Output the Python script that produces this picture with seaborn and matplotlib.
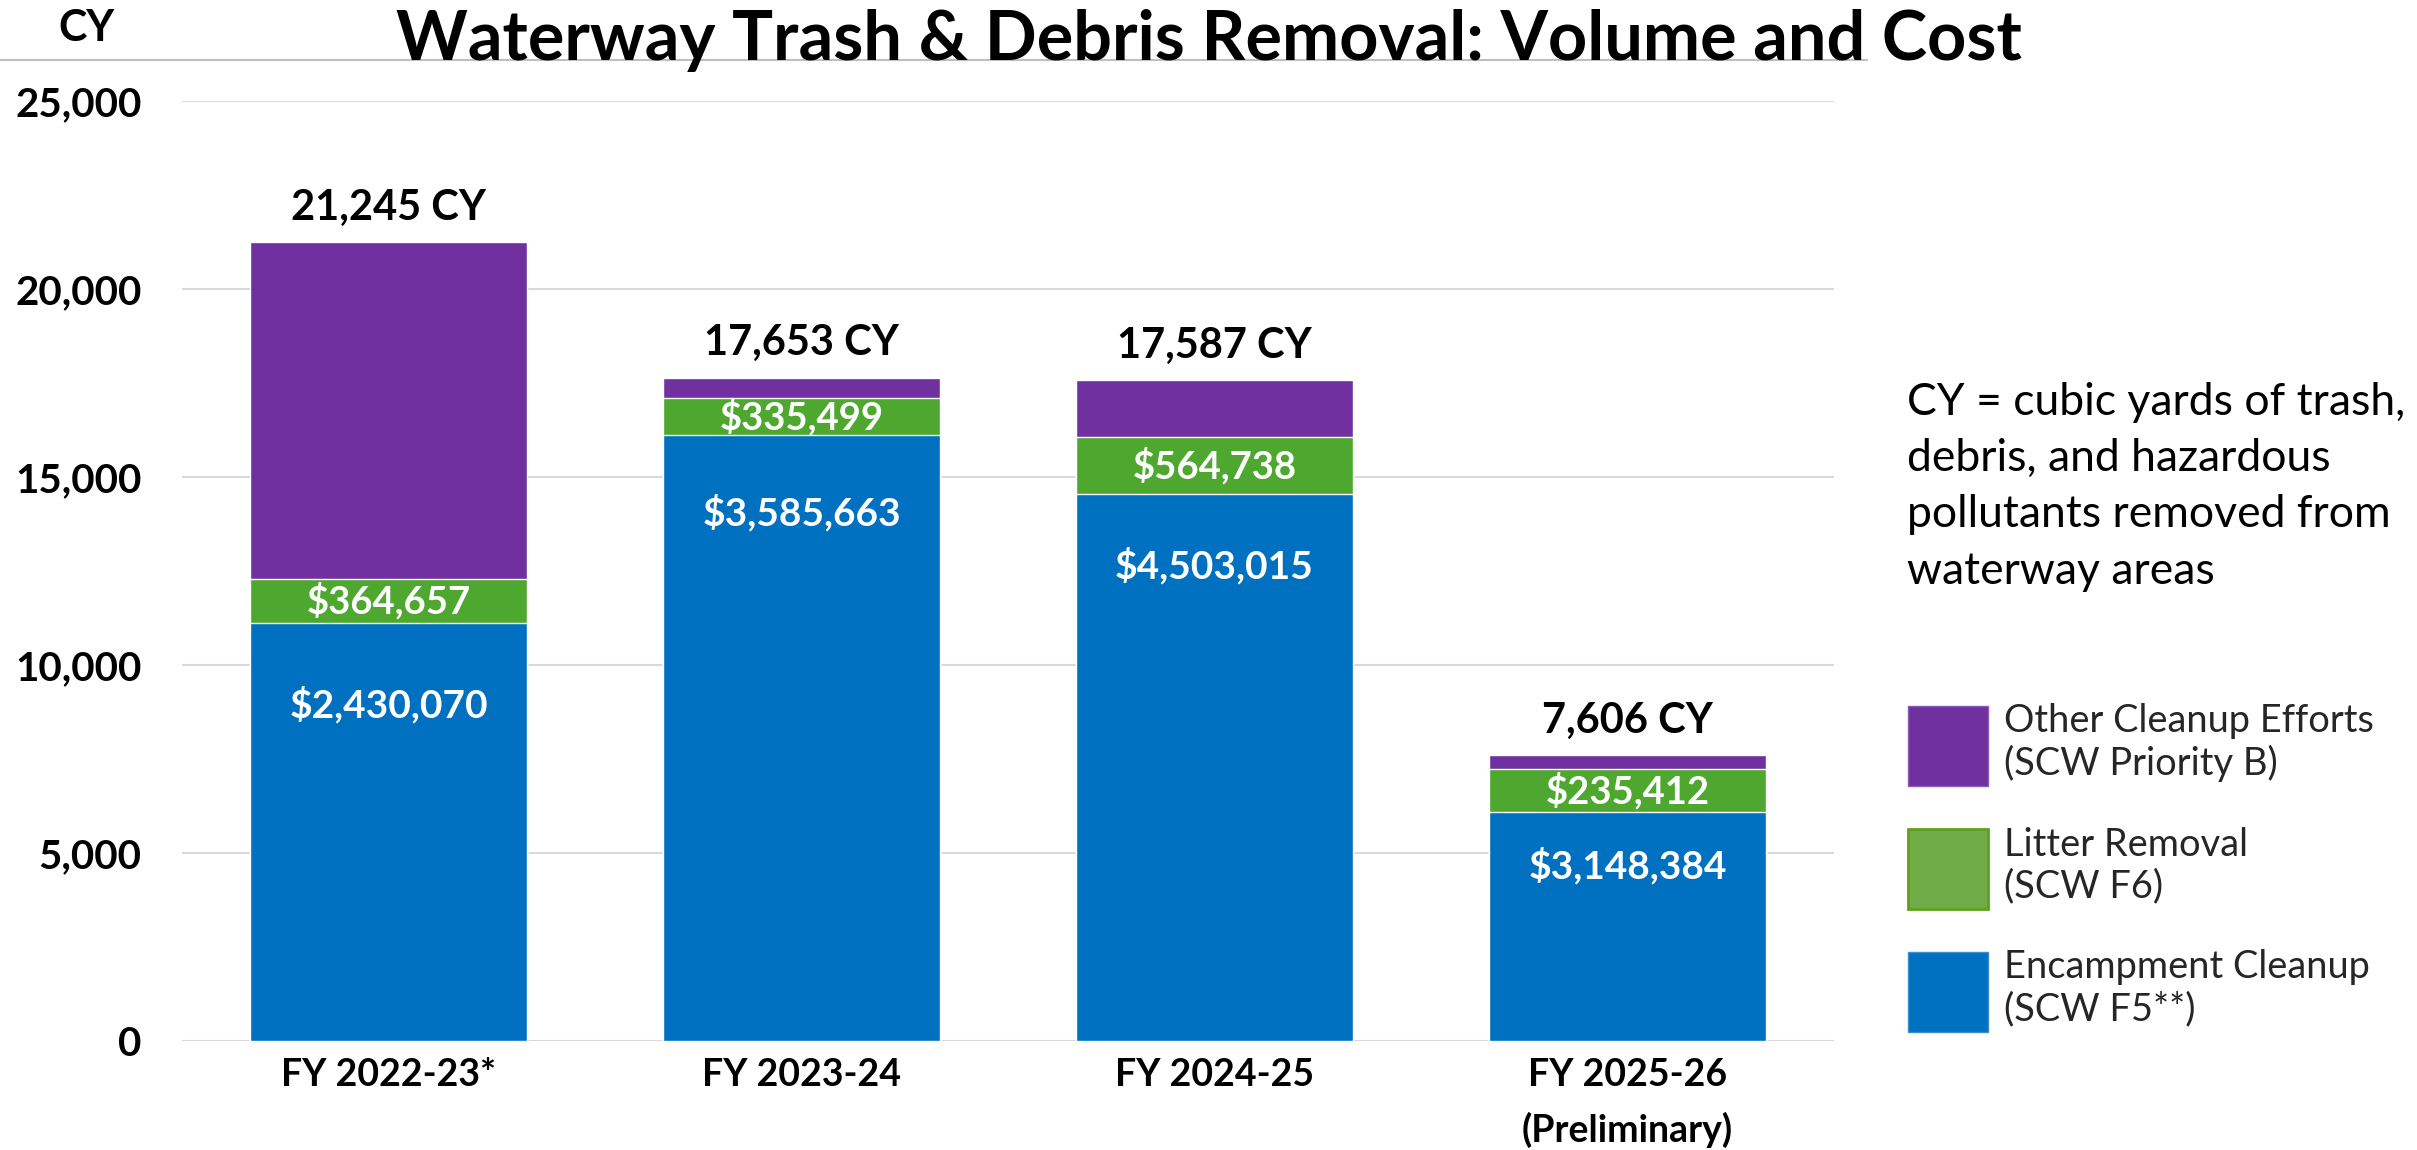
import matplotlib
matplotlib.use("Agg")
import matplotlib.pyplot as plt
import seaborn as sns
import pandas as pd
from matplotlib.patches import Patch
from matplotlib.lines import Line2D

# ---------------- data ----------------
categories = ["FY 2022-23*", "FY 2023-24", "FY 2024-25", "FY 2025-26\n(Preliminary)"]
encampment_cy = [11133, 16117, 14564, 6106]
litter_cy = [1162, 984, 1508, 1136]
other_cy = [8950, 552, 1515, 364]
total_labels = ["21,245 CY", "17,653 CY", "17,587 CY", "7,606 CY"]
encampment_cost = ["$2,430,070", "$3,585,663", "$4,503,015", "$3,148,384"]
litter_cost = ["$364,657", "$335,499", "$564,738", "$235,412"]
yticks = [0, 5000, 10000, 15000, 20000, 25000]
series_names = ["Other Cleanup Efforts\n(SCW Priority B)",
                "Litter Removal\n(SCW F6)",
                "Encampment Cleanup\n(SCW F5**)"]
note_text = "CY = cubic yards of trash,\ndebris, and hazardous\npollutants removed from\nwaterway areas"
title_text = "Waterway Trash & Debris Removal: Volume and Cost"

# ---------------- style ----------------
PURPLE = "#7030A0"
GREEN = "#4EA72E"
BLUE = "#0070C0"
LEG_GREEN = "#70AD47"
GRID = "#D9D9D9"
enc_label_drop_pt = [59, 56, 52, 39]

sns.set_theme(style="white")
plt.rcParams["font.family"] = ["Lato", "DejaVu Sans"]

df = pd.DataFrame({
    "category": categories,
    "enc": encampment_cy,
    "lit": litter_cy,
    "oth": other_cy,
})
df["lvl2"] = df["enc"] + df["lit"]
df["lvl3"] = df["lvl2"] + df["oth"]

W, H = 2417, 1150
fig = plt.figure(figsize=(W / 100, H / 100), dpi=100)
ax = fig.add_axes([182 / W, 1 - 1041.3 / H, (1834 - 182) / W, (1041.3 - 101.3) / H])

bw = 0.67
sns.barplot(data=df, x="category", y="lvl3", color=PURPLE, saturation=1,
            width=bw, ax=ax, order=categories)
sns.barplot(data=df, x="category", y="lvl2", color=GREEN, saturation=1,
            width=bw, ax=ax, order=categories)
sns.barplot(data=df, x="category", y="enc", color=BLUE, saturation=1,
            width=bw, ax=ax, order=categories)

ax.set_ylim(0, 25000)
ax.set_xlim(-0.5, len(categories) - 0.5)
ax.set_yticks(yticks)
ax.set_yticklabels([f"{v:,}" for v in yticks])
ax.set_xlabel("")
ax.set_ylabel("")
ax.grid(axis="y", color=GRID, linewidth=1.5)
ax.set_axisbelow(True)
for s in ax.spines.values():
    s.set_visible(False)
ax.tick_params(axis="y", length=0, pad=29, labelsize=29)
ax.tick_params(axis="x", length=0, pad=12, labelsize=27)
for t in ax.get_yticklabels() + ax.get_xticklabels():
    t.set_fontweight("bold")
    t.set_color("black")
for t in ax.get_xticklabels():
    t.set_linespacing(1.65)

# value labels
for i in range(len(categories)):
    top = df["lvl3"][i]
    ax.annotate(total_labels[i], (i, top), xytext=(0, 11), textcoords="offset points",
                ha="center", va="bottom", fontsize=30, fontweight="bold", color="black")
    mid_green = df["enc"][i] + df["lit"][i] / 2
    ax.text(i, mid_green, litter_cost[i], ha="center", va="center",
            fontsize=27.5, fontweight="bold", color="white")
    ax.annotate(encampment_cost[i], (i, df["enc"][i]), xytext=(0, -enc_label_drop_pt[i]),
                textcoords="offset points", ha="center", va="center",
                fontsize=28, fontweight="bold", color="white")

# title, unit label, separator line
fig.text(0.5, 1 - 60 / H, title_text, ha="center", va="baseline",
         fontsize=49.2, fontweight="bold", color="black")
fig.text(58 / W, 1 - 28 / H, "CY", ha="left", va="center",
         fontsize=31, fontweight="bold", color="black")
fig.add_artist(Line2D([0, 1867 / W], [1 - 60 / H] * 2, color="#BFBFBF",
                      linewidth=1.5, transform=fig.transFigure, zorder=0))

# note
fig.text(1907 / W, 1 - 382 / H, note_text, ha="left", va="top",
         fontsize=32, color="black", linespacing=1.46)

# legend
handles = [Patch(facecolor=PURPLE, edgecolor="#8B5BB5"),
           Patch(facecolor=LEG_GREEN, edgecolor="#5FA020", linewidth=2),
           Patch(facecolor=BLUE, edgecolor="#3A8FD0")]
fig.legend(handles, series_names, loc="upper left",
           bbox_to_anchor=(1908 / W, 1 - 703 / H), frameon=False,
           fontsize=27.4, handlelength=2.1, handleheight=2.86,
           handletextpad=0.42, labelspacing=1.07, borderpad=0, borderaxespad=0)

fig.savefig("out.png", dpi=100)
